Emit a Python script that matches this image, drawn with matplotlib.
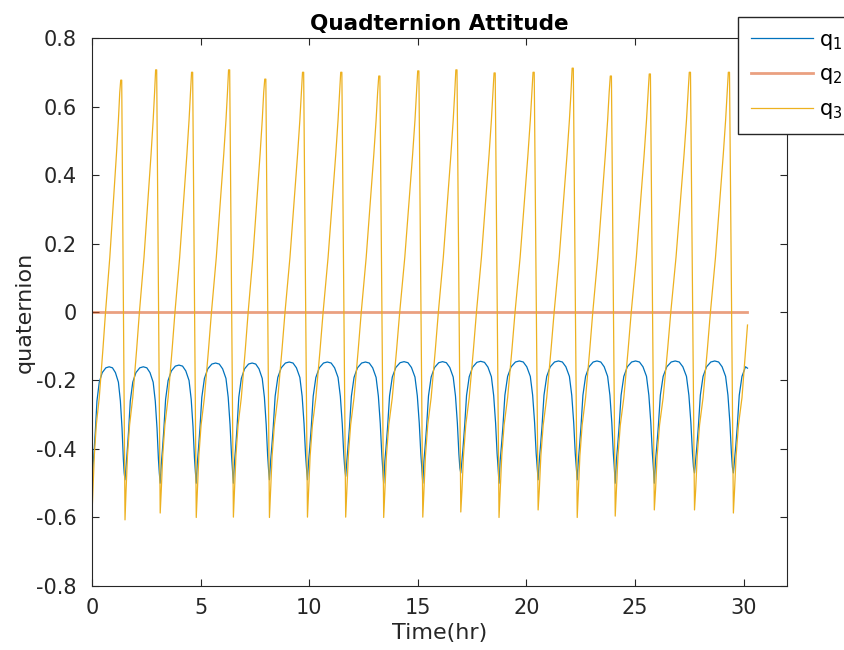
import matplotlib.pyplot as plt

plt.rcParams['axes.unicode_minus'] = False

# time (hr) where each cycle starts: q1 cusp / q3 trough
cycle_start = [0.0, 1.52, 3.14, 4.80, 6.51, 8.17, 9.92, 11.68, 13.43, 15.23,
               16.98, 18.74, 20.54, 22.34, 24.09, 25.89, 27.74, 29.53]
t_end = 30.18

# per-cycle extremes
q1_cusp = [-0.50, -0.49, -0.50, -0.50, -0.50, -0.49, -0.49, -0.48, -0.50, -0.50,
           -0.47, -0.50, -0.49, -0.49, -0.50, -0.50, -0.47, -0.47]
q1_top = [-0.160, -0.160, -0.155, -0.149, -0.149, -0.146, -0.146, -0.146, -0.145,
          -0.145, -0.144, -0.143, -0.143, -0.143, -0.143, -0.143, -0.143, -0.143]
q3_low = [-0.59, -0.607, -0.587, -0.60, -0.599, -0.60, -0.599, -0.599, -0.60,
          -0.599, -0.584, -0.60, -0.578, -0.60, -0.596, -0.578, -0.578, -0.587]
q3_high = [0.677, 0.707, 0.70, 0.707, 0.68, 0.70, 0.70, 0.689, 0.704, 0.707,
           0.698, 0.70, 0.712, 0.689, 0.695, 0.70, 0.70]

# shape of one cycle (phase 0..1), read from the second cycle
q1_phase = [0.0, 0.03, 0.06, 0.10, 0.15, 0.22, 0.31, 0.42, 0.52, 0.62, 0.71,
            0.80, 0.86, 0.91, 0.95, 0.975]
q1_below_top = [0.0, 0.29, 0.25, 0.19, 0.10, 0.045, 0.017, 0.003, 0.0, 0.003,
                0.017, 0.045, 0.10, 0.18, 0.27, 0.31]
q3_phase = [0.0, 0.03, 0.07, 0.13, 0.22, 0.33, 0.41, 0.54, 0.66, 0.74, 0.80,
            0.84, 0.87, 0.90]
q3_shape = [None, -0.52, -0.42, -0.33, -0.25, -0.11, 0.0, 0.16, 0.34, 0.46,
            0.56, 0.64, None, None]

# values at the last sample
q1_last = -0.164
q3_last = -0.038
last_period = 1.8

t1, v1, t3, v3 = [], [], [], []
for k, t0 in enumerate(cycle_start):
    if k + 1 < len(cycle_start):
        period = cycle_start[k + 1] - t0
        n1, n3 = len(q1_phase), len(q3_phase)
    else:
        period = last_period
        n1, n3 = 7, 5
    for i in range(n1):
        t1.append(t0 + q1_phase[i] * period)
        v1.append(q1_cusp[k] if i == 0 else q1_top[k] - q1_below_top[i])
    for i in range(n3):
        t3.append(t0 + q3_phase[i] * period)
        if i == 0:
            v3.append(q3_low[k])
        elif q3_shape[i] is None:
            v3.append(q3_high[k])
        else:
            v3.append(q3_shape[i])
t1.append(t_end)
v1.append(q1_last)
t3.append(t_end)
v3.append(q3_last)

t2 = [0.0, t_end]
v2 = [0.0, 0.0]

y_ticks = [-0.8, -0.6, -0.4, -0.2, 0.0, 0.2, 0.4, 0.6, 0.8]
y_labels = ['-0.8', '-0.6', '-0.4', '-0.2', '0', '0.2', '0.4', '0.6', '0.8']

fig = plt.figure(figsize=(8.44, 6.5), dpi=100)
ax = fig.add_axes([0.109, 0.0985, 0.8235, 0.843])

ax.plot(t1, v1, color='#0072BD', lw=0.9, label='q$_1$')
ax.plot(t2, v2, color='#D95319', lw=2.0, alpha=0.55, label='q$_2$')
ax.plot(t3, v3, color='#EDB120', lw=0.9, label='q$_3$')

ax.set_xlim(0, 32)
ax.set_ylim(-0.8, 0.8)
ax.set_xticks(range(0, 31, 5))
ax.set_yticks(y_ticks)
ax.set_yticklabels(y_labels)

ax.tick_params(direction='in', top=True, right=True, labelsize=15,
               colors='#262626', length=5, width=0.8)
ax.tick_params(axis='y', pad=11)
ax.tick_params(axis='x', pad=9)
for s in ax.spines.values():
    s.set_color('#262626')
    s.set_linewidth(0.8)

ax.set_title('Quadternion Attitude', fontsize=15.5, fontweight='bold', color='black', pad=6)
ax.set_xlabel('Time(hr)', fontsize=16, color='#262626', labelpad=3)
ax.set_ylabel('quaternion', fontsize=16, color='#262626', labelpad=1)

fig.legend(loc='upper left', bbox_to_anchor=(738 / 844, 1 - 17 / 650),
           bbox_transform=fig.transFigure, fontsize=15, fancybox=False,
           edgecolor='#262626', framealpha=1, handlelength=3.0,
           handletextpad=0.3, labelspacing=0.62, borderpad=0.6,
           borderaxespad=0)

fig.savefig('out.png', dpi=100)
